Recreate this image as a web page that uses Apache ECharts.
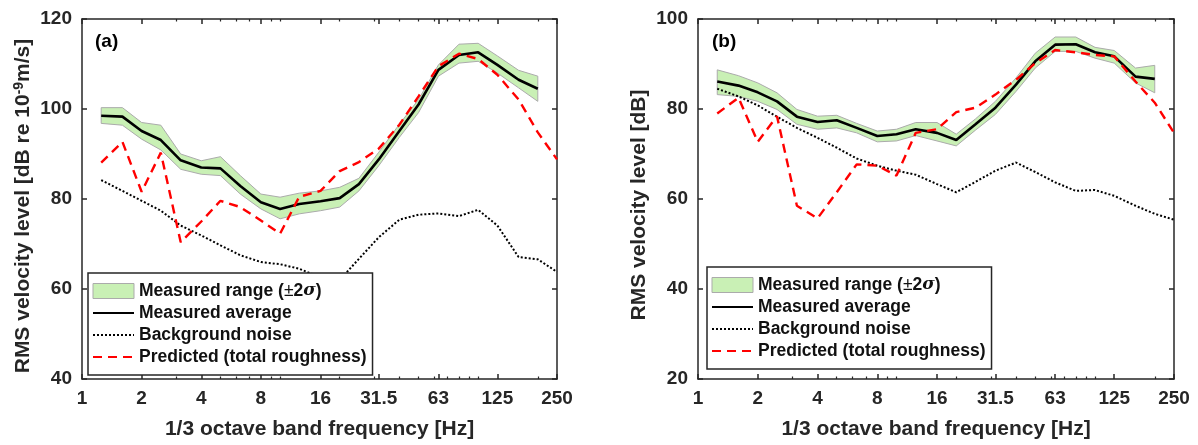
<!DOCTYPE html>
<html><head><meta charset="utf-8">
<script src="https://cdn.jsdelivr.net/npm/echarts@6/dist/echarts.min.js"></script>
<style>html,body{margin:0;padding:0;background:#fff}#c{width:1198px;height:445px}</style>
</head><body><div id="c"></div><script>
// 1/3 octave band centre frequencies [Hz]
const FREQS = [1.25,1.6,2,2.5,3.15,4,5,6.3,8,10,12.5,16,20,25,31.5,40,50,63,80,100,125,160,200,250];
const TICK_FREQS = [1,2,4,8,16,31.5,63,125,250];
const TICK_LABELS = ['1','2','4','8','16','31.5','63','125','250'];
const MINOR_FREQS = [3,5,6,7,9,10,20,30,40,50,60,70,80,90,100,200];

// Panel (a): RMS velocity level [dB re 1e-9 m/s]
const avgA   = [98.5,98.3,95.1,93.1,88.6,87.0,86.8,82.9,79.3,77.8,78.9,79.5,80.2,83.3,88.8,95.1,101.0,108.7,112.0,112.6,109.8,106.5,104.5];
const upperA = [100.3,100.3,97.0,96.4,90.0,88.5,89.4,85.2,81.1,80.4,81.3,81.8,82.6,84.6,90.4,96.6,102.1,109.8,114.4,114.6,111.8,108.6,107.3];
const lowerA = [96.8,96.4,93.3,90.9,86.6,85.5,85.2,81.1,77.8,75.6,76.7,77.4,78.2,81.8,87.4,93.7,99.2,107.3,110.2,110.6,108.0,104.7,101.7];
const noiseA = [84.2,81.8,79.6,77.4,74.1,71.9,69.7,67.5,66.0,65.5,64.5,62.6,62.0,66.7,71.5,75.4,76.5,76.8,76.2,77.6,74.1,67.1,66.6,63.8];
const predA  = [88.1,92.7,81.6,90.3,70.4,75.0,79.6,78.2,75.2,72.3,80.5,81.8,86.2,88.2,91.2,96.5,102.8,109.5,112.3,111.1,107.6,102.1,94.8,88.8];

// Panel (b): RMS velocity level [dB]
const avgB   = [86.1,85.2,83.7,81.7,78.3,77.1,77.5,75.8,74.0,74.4,75.5,74.7,73.1,76.6,80.3,85.4,90.6,94.3,94.4,92.6,91.7,87.2,86.7];
const upperB = [88.7,87.4,85.8,83.6,79.9,78.4,78.6,76.8,75.1,75.5,77.0,77.0,74.4,77.8,81.7,86.9,92.4,96.0,96.0,93.7,93.0,89.1,89.7];
const lowerB = [83.2,82.8,81.7,79.9,76.6,75.5,75.8,74.7,72.7,72.9,74.1,72.9,71.8,75.3,78.8,83.9,89.1,92.8,92.8,91.3,90.2,85.8,83.6];
const noiseB = [84.5,82.8,80.8,78.3,75.8,73.6,71.4,69.0,67.4,66.3,65.4,63.3,61.5,63.8,66.3,68.1,66.0,63.7,61.8,62.0,60.7,58.5,56.7,55.4];
const predB  = [79.0,82.5,72.7,78.4,58.5,55.7,61.5,67.7,67.4,65.2,74.7,75.5,79.3,80.3,83.2,86.5,90.2,93.1,92.6,92.0,91.7,86.1,81.4,74.7];

const N_RANGE = 'Measured range (±2σ)';
const N_AVG = 'Measured average';
const N_NOISE = 'Background noise';
const N_PRED = 'Predicted (total roughness)';

const FONT = 'Liberation Sans, Arial, sans-serif';
const AX = '#262626';
const GREEN = '#c9f0b5';
const EDGE = '#ababab';
const XMAX = Math.log2(250);
const lg = f => Math.log2(f);
const majorX = TICK_FREQS.map(lg);
const minorX = MINOR_FREQS.map(lg);
const pairs = (vals) => vals.map((v, i) => [lg(FREQS[i]), v]);

function xAxes(gi, name) {
  const base = {
    gridIndex: gi, type: 'value', min: 0, max: XMAX,
    splitLine: { show: false },
    axisLine: { show: true, onZero: false, lineStyle: { color: AX, width: 1.5 } }
  };
  return [
    Object.assign({}, base, {
      position: 'bottom',
      axisTick: { inside: true, length: 5, customValues: majorX, lineStyle: { color: AX, width: 1.5 } },
      axisLabel: {
        customValues: majorX, margin: 10, color: AX, fontFamily: FONT, fontWeight: 'bold', fontSize: 19,
        formatter: v => { for (let i = 0; i < majorX.length; i++) if (Math.abs(majorX[i] - v) < 1e-6) return TICK_LABELS[i]; return ''; }
      },
      name: name, nameLocation: 'middle', nameGap: 40,
      nameTextStyle: { color: AX, fontFamily: FONT, fontWeight: 'bold', fontSize: 21 }
    }),
    Object.assign({}, base, {
      position: 'top',
      axisTick: { inside: true, length: 5, customValues: majorX, lineStyle: { color: AX, width: 1.5 } },
      axisLabel: { show: false }
    }),
    Object.assign({}, base, {
      position: 'bottom', axisLine: { show: false, onZero: false },
      axisTick: { inside: true, length: 2.5, customValues: minorX, lineStyle: { color: AX, width: 1.2 } },
      axisLabel: { show: false }
    }),
    Object.assign({}, base, {
      position: 'top', axisLine: { show: false, onZero: false },
      axisTick: { inside: true, length: 2.5, customValues: minorX, lineStyle: { color: AX, width: 1.2 } },
      axisLabel: { show: false }
    })
  ];
}

function yAxes(gi, mn, mx, name, shift) {
  const base = {
    gridIndex: gi, type: 'value', min: mn, max: mx, interval: 20,
    splitLine: { show: false },
    axisLine: { show: true, onZero: false, lineStyle: { color: AX, width: 1.5 } },
    axisTick: { inside: true, length: 5, lineStyle: { color: AX, width: 1.5 } }
  };
  return [
    Object.assign({}, base, {
      position: 'left',
      axisLabel: { margin: 10, color: AX, fontFamily: FONT, fontWeight: 'bold', fontSize: 19 },
      name: name, nameLocation: 'middle', nameGap: 47,
      nameTextStyle: {
        color: AX, fontFamily: FONT, fontWeight: 'bold', fontSize: 21,
        padding: [0, shift, 0, 0],
        rich: {
          t: { color: AX, fontFamily: FONT, fontWeight: 'bold', fontSize: 21, lineHeight: 23 },
          s: { color: AX, fontFamily: FONT, fontWeight: 'bold', fontSize: 14, lineHeight: 14, verticalAlign: 'top', padding: [0, 0, 10, 0] }
        }
      }
    }),
    Object.assign({}, base, { position: 'right', axisLabel: { show: false } })
  ];
}

function bandSeries(xi, yi, lower, upper) {
  const n = upper.length;
  return {
    type: 'custom', name: N_RANGE, xAxisIndex: xi, yAxisIndex: yi, z: 1,
    itemStyle: { color: GREEN },
    data: upper.map((u, i) => [lg(FREQS[i]), lower[i], u]),
    encode: { x: 0, y: [1, 2] },
    renderItem: function (params, api) {
      if (params.dataIndex !== 0) return;
      const pts = [];
      for (let i = 0; i < n; i++) pts.push(api.coord([lg(FREQS[i]), upper[i]]));
      for (let i = n - 1; i >= 0; i--) pts.push(api.coord([lg(FREQS[i]), lower[i]]));
      return { type: 'polygon', shape: { points: pts }, style: { fill: GREEN, stroke: EDGE, lineWidth: 1 } };
    }
  };
}

function lineSeries(xi, yi, name, vals, style, z) {
  return {
    type: 'line', name: name, xAxisIndex: xi, yAxisIndex: yi, z: z,
    data: pairs(vals), symbol: 'none', showSymbol: false, animation: false,
    itemStyle: { color: style.color },
    lineStyle: style
  };
}

const AVG_STYLE = { color: '#000000', width: 2.6, type: 'solid' };
const NOISE_STYLE = { color: '#000000', width: 2, type: [2, 2] };
const PRED_STYLE = { color: '#ff0000', width: 2.4, type: [9, 6] };

function legendFor(left, top) {
  const lineItem = name => ({ name: name, icon: 'inherit', itemStyle: { opacity: 0 } });
  return {
    left: left, top: top, orient: 'vertical',
    backgroundColor: '#ffffff', borderColor: AX, borderWidth: 1.5, borderRadius: 0,
    padding: [9, 6, 9, 4], itemWidth: 41, itemHeight: 15, itemGap: 4, z: 10,
    selectedMode: false,
    textStyle: {
      color: '#111', fontFamily: FONT, fontWeight: 'bold', fontSize: 17.5, lineHeight: 17,
      rich: {
        n: { color: '#111', fontFamily: FONT, fontWeight: 'bold', fontSize: 17.5, lineHeight: 17 },
        p: { color: '#111', fontFamily: FONT, fontWeight: 'normal', fontSize: 17.5, lineHeight: 17 },
        s: { color: '#111', fontFamily: 'DejaVu Serif, serif', fontStyle: 'italic', fontWeight: 'bold', fontSize: 17, lineHeight: 17 }
      }
    },
    formatter: name => name === N_RANGE ? '{n|Measured range (}{p|±}{n|2}{s|σ}{n|)}' : name,
    data: [
      { name: N_RANGE, icon: 'rect', itemStyle: { color: GREEN, borderColor: EDGE, borderWidth: 1 } },
      lineItem(N_AVG),
      lineItem(N_NOISE),
      lineItem(N_PRED)
    ]
  };
}

const chart = echarts.init(document.getElementById('c'), null, { renderer: 'canvas' });
chart.setOption({
  animation: false,
  backgroundColor: '#ffffff',
  grid: [
    { left: 82, top: 19, width: 475, height: 362 },
    { left: 698, top: 19, width: 476, height: 362 }
  ],
  xAxis: [].concat(
    xAxes(0, '1/3 octave band frequency [Hz]'),
    xAxes(1, '1/3 octave band frequency [Hz]')
  ),
  yAxis: [].concat(
    yAxes(0, 40, 120, '{t|RMS velocity level [dB re 10}{s|-9}{t|m/s]}', 14),
    yAxes(1, 20, 100, '{t|RMS velocity level [dB]}', 12)
  ),
  legend: [legendFor(88, 273), legendFor(707, 267)],
  graphic: [
    { type: 'text', left: 95, top: 32, style: { text: '(a)', fill: '#000', font: 'bold 19px ' + FONT } },
    { type: 'text', left: 712, top: 32, style: { text: '(b)', fill: '#000', font: 'bold 19px ' + FONT } }
  ],
  series: [
    bandSeries(0, 0, lowerA, upperA),
    lineSeries(0, 0, N_AVG, avgA, AVG_STYLE, 4),
    lineSeries(0, 0, N_NOISE, noiseA, NOISE_STYLE, 3),
    lineSeries(0, 0, N_PRED, predA, PRED_STYLE, 5),
    bandSeries(4, 2, lowerB, upperB),
    lineSeries(4, 2, N_AVG, avgB, AVG_STYLE, 4),
    lineSeries(4, 2, N_NOISE, noiseB, NOISE_STYLE, 3),
    lineSeries(4, 2, N_PRED, predB, PRED_STYLE, 5)
  ]
});
</script></body></html>
